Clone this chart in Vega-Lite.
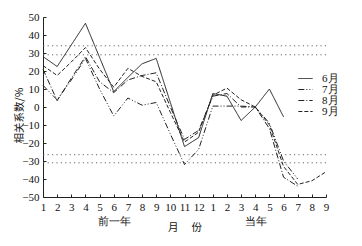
{
  "$schema": "https://vega.github.io/schema/vega-lite/v6.json",
  "width": 283,
  "height": 180,
  "autosize": "none",
  "padding": {"left": 43, "top": 17, "right": 36, "bottom": 49},
  "background": "white",
  "config": {
    "view": {"stroke": null},
    "font": "Liberation Serif",
    "axis": {"domainColor": "#222", "tickColor": "#222", "labelColor": "#111", "titleColor": "#111", "grid": false, "labelFont": "Liberation Serif", "labelFontSize": 11, "titleFont": "Noto Sans CJK SC", "titleFontSize": 10.5, "titleFontWeight": "normal", "labelOverlap": false, "labelBound": false, "labelFlush": false}
  },
  "datasets": {
    "series": [
      {"s": "6月", "x": 0, "v": 28}, {"s": "6月", "x": 1, "v": 22.5}, {"s": "6月", "x": 2, "v": 34.5}, {"s": "6月", "x": 3, "v": 46.5}, {"s": "6月", "x": 4, "v": 27.5}, {"s": "6月", "x": 5, "v": 8.5}, {"s": "6月", "x": 6, "v": 16.5}, {"s": "6月", "x": 7, "v": 24}, {"s": "6月", "x": 8, "v": 27}, {"s": "6月", "x": 9, "v": 2.5}, {"s": "6月", "x": 10, "v": -22}, {"s": "6月", "x": 11, "v": -17}, {"s": "6月", "x": 12, "v": 7.5}, {"s": "6月", "x": 13, "v": 6}, {"s": "6月", "x": 14, "v": -7.5}, {"s": "6月", "x": 15, "v": 0}, {"s": "6月", "x": 16, "v": 10}, {"s": "6月", "x": 17, "v": -5.5},
      {"s": "7月", "x": 0, "v": 12}, {"s": "7月", "x": 1, "v": 4}, {"s": "7月", "x": 2, "v": 15}, {"s": "7月", "x": 3, "v": 27}, {"s": "7月", "x": 4, "v": 10}, {"s": "7月", "x": 5, "v": -5}, {"s": "7月", "x": 6, "v": 5}, {"s": "7月", "x": 7, "v": 1}, {"s": "7月", "x": 8, "v": 2.5}, {"s": "7月", "x": 9, "v": -15}, {"s": "7月", "x": 10, "v": -32}, {"s": "7月", "x": 11, "v": -23.5}, {"s": "7月", "x": 12, "v": 0.5}, {"s": "7月", "x": 13, "v": 0.5}, {"s": "7月", "x": 14, "v": 0.5}, {"s": "7月", "x": 15, "v": 0}, {"s": "7月", "x": 16, "v": -9}, {"s": "7月", "x": 17, "v": -30}, {"s": "7月", "x": 18, "v": -40},
      {"s": "8月", "x": 0, "v": 21}, {"s": "8月", "x": 1, "v": 3.5}, {"s": "8月", "x": 2, "v": 16}, {"s": "8月", "x": 3, "v": 28}, {"s": "8月", "x": 4, "v": 14}, {"s": "8月", "x": 5, "v": 8}, {"s": "8月", "x": 6, "v": 15}, {"s": "8月", "x": 7, "v": 17.5}, {"s": "8月", "x": 8, "v": 19}, {"s": "8月", "x": 9, "v": 0}, {"s": "8月", "x": 10, "v": -18}, {"s": "8月", "x": 11, "v": -13}, {"s": "8月", "x": 12, "v": 6}, {"s": "8月", "x": 13, "v": 7.5}, {"s": "8月", "x": 14, "v": 0}, {"s": "8月", "x": 15, "v": 0}, {"s": "8月", "x": 16, "v": -12}, {"s": "8月", "x": 17, "v": -39}, {"s": "8月", "x": 18, "v": -44},
      {"s": "9月", "x": 0, "v": 23}, {"s": "9月", "x": 1, "v": 17.5}, {"s": "9月", "x": 2, "v": 25}, {"s": "9月", "x": 3, "v": 33}, {"s": "9月", "x": 4, "v": 21}, {"s": "9月", "x": 5, "v": 11}, {"s": "9月", "x": 6, "v": 21.5}, {"s": "9月", "x": 7, "v": 17}, {"s": "9月", "x": 8, "v": 14}, {"s": "9月", "x": 9, "v": -3}, {"s": "9月", "x": 10, "v": -19.5}, {"s": "9月", "x": 11, "v": -14}, {"s": "9月", "x": 12, "v": 6.5}, {"s": "9月", "x": 13, "v": 10.5}, {"s": "9月", "x": 14, "v": 4}, {"s": "9月", "x": 15, "v": 0}, {"s": "9月", "x": 16, "v": -10}, {"s": "9月", "x": 17, "v": -33}, {"s": "9月", "x": 18, "v": -43}, {"s": "9月", "x": 19, "v": -41}, {"s": "9月", "x": 20, "v": -36}
    ],
    "refs": [{"v": 34}, {"v": 29}, {"v": -26.5}, {"v": -31}]
  },
  "encoding": {
    "y": {
      "field": "v", "type": "quantitative",
      "scale": {"domain": [-50, 50], "nice": false, "zero": false},
      "axis": {"values": [-50, -40, -30, -20, -10, 0, 10, 20, 30, 40, 50], "tickSize": -3, "labelPadding": 7, "title": "相关系数/%", "titleAngle": -90, "titleX": -24, "titleY": 98, "titleAlign": "center", "titleBaseline": "middle"}
    }
  },
  "layer": [
    {
      "data": {"name": "refs"},
      "mark": {"type": "rule", "strokeDash": [1.2, 3.2], "color": "#666", "strokeWidth": 1},
      "encoding": {}
    },
    {
      "data": {"name": "series"},
      "mark": {"type": "line", "color": "#222", "strokeWidth": 1},
      "encoding": {
        "x": {
          "field": "x", "type": "quantitative",
          "scale": {"domain": [0, 20], "nice": false, "zero": false},
          "axis": {"values": [0,1,2,3,4,5,6,7,8,9,10,11,12,13,14,15,16,17,18,19,20], "tickSize": -3, "labelPadding": 7, "labelLineHeight": 14, "labelBaseline": "top",
            "labelExpr": "datum.value == 5 ? ['6', '前一年'] : datum.value == 15 ? ['4', '当年'] : datum.value < 12 ? '' + (datum.value + 1) : '' + (datum.value - 11)",
            "title": "月　 份", "titleY": 30, "titleBaseline": "middle"}
        },
        "strokeDash": {
          "field": "s", "type": "nominal",
          "scale": {"domain": ["6月", "7月", "8月", "9月"], "range": [[1, 0], [6, 2, 1, 2, 1, 2], [6, 2, 1, 2], [4, 2]]},
          "legend": {"title": null, "orient": "none", "legendX": 257, "legendY": 56, "symbolType": "M-1.6,0L1.6,0", "symbolSize": 80, "symbolStrokeColor": "#222", "symbolFillColor": "transparent", "symbolStrokeWidth": 1, "labelFont": "Liberation Serif", "labelFontSize": 11, "labelColor": "#111", "rowPadding": -2, "labelOffset": 11}
        }
      }
    }
  ]
}
